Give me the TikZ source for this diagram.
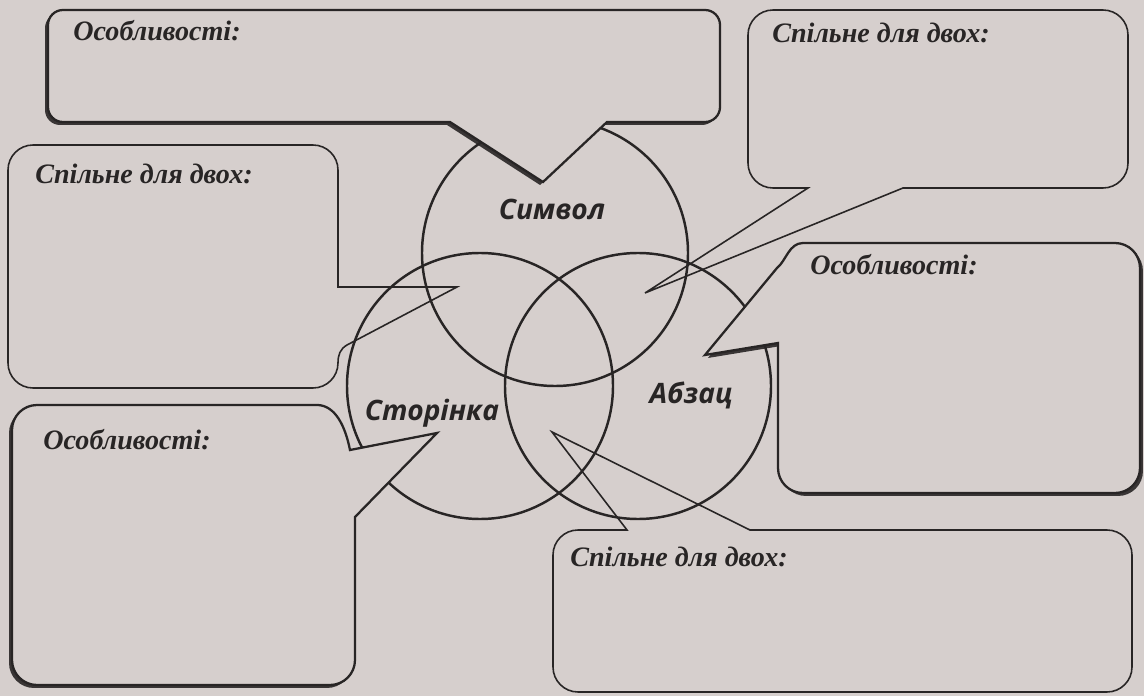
\documentclass[tikz,border=0pt]{standalone}
\usepackage{fontspec}
\setmainfont{Liberation Serif}
\newfontfamily\labelfont{Open Sans}
\usetikzlibrary{shadows}
\definecolor{paper}{RGB}{214,207,205}
\definecolor{ink}{RGB}{40,37,37}
\tikzset{
    venn/.style = {draw=ink, line width=1.4pt},
    commonbox/.style = {draw=ink, line width=0.9pt, fill=paper},
    featurebox/.style = {draw=ink, line width=1.3pt, fill=paper},
    featureleft/.style = {featurebox, drop shadow={shadow xshift=-1.7pt, shadow yshift=-1.7pt, fill=ink, opacity=.9}},
    featureright/.style = {featurebox, drop shadow={shadow xshift=1.7pt, shadow yshift=-1.7pt, fill=ink, opacity=.9}},
    boxtitle/.style = {anchor=west, inner sep=0pt, text=ink, font=\fontsize{16}{18}\selectfont\bfseries\itshape},
    circlelabel/.style = {inner sep=0pt, text=ink, font=\labelfont\fontsize{16}{18}\selectfont\bfseries\itshape}
}

\begin{document}
\begin{tikzpicture}[x=0.02cm, y=-0.02cm]
    \useasboundingbox (0,0) rectangle (1144,696);
    \fill[paper] (0,0) rectangle (1144,696);

    % circle centres and pointer tips
    \coordinate (symbol) at (555,253);
    \coordinate (page) at (480,386);
    \coordinate (paragraph) at (638,386);
    \coordinate (tipFeatTop) at (543,182);
    \coordinate (tipCommonTR) at (645,293);
    \coordinate (tipCommonL) at (457,287);
    \coordinate (tipFeatR) at (705,355);
    \coordinate (tipFeatBL) at (437,433);
    \coordinate (tipCommonBR) at (552,432);

    % common boxes (under the circles)
    \draw[commonbox] (tipCommonTR) -- (808,188) -- (773,188) arc[start angle=90, end angle=180, radius=25]
        -- (748,35) arc[start angle=180, end angle=270, radius=25]
        -- (1103,10) arc[start angle=270, end angle=360, radius=25]
        -- (1128,163) arc[start angle=0, end angle=90, radius=25] -- (903,188) -- cycle;
    \draw[commonbox] (tipCommonL) -- (347,345) .. controls (340,349) and (338,355) .. (338,363)
        arc[start angle=0, end angle=90, radius=25]
        -- (33,388) arc[start angle=90, end angle=180, radius=25]
        -- (8,170) arc[start angle=180, end angle=270, radius=25]
        -- (313,145) arc[start angle=270, end angle=360, radius=25] -- (338,287) -- cycle;
    \draw[commonbox] (tipCommonBR) -- (750,530) -- (1107,530) arc[start angle=270, end angle=360, radius=25]
        -- (1132,667) arc[start angle=0, end angle=90, radius=25]
        -- (578,692) arc[start angle=90, end angle=180, radius=25]
        -- (553,555) arc[start angle=180, end angle=270, radius=25] -- (627,530) -- cycle;

    \foreach \c in {symbol,page,paragraph}
        \draw[venn] (\c) circle[radius=133];

    % feature boxes (over the circles)
    \draw[featureleft] (tipFeatTop) -- (450,122) -- (63,122) arc[start angle=90, end angle=180, radius=15]
        -- (48,25) arc[start angle=180, end angle=270, radius=15]
        -- (705,10) arc[start angle=270, end angle=360, radius=15]
        -- (720,107) arc[start angle=0, end angle=90, radius=15] -- (607,122) -- cycle;
    \draw[featureright] (tipFeatR) -- (777,268) .. controls (786,261) and (789,243) .. (803,243)
        -- (1115,243) arc[start angle=270, end angle=360, radius=25]
        -- (1140,468) arc[start angle=0, end angle=90, radius=25]
        -- (803,493) arc[start angle=90, end angle=180, radius=25] -- (778,343) -- cycle;
    \draw[featureleft] (tipFeatBL) -- (355,517) -- (355,660) arc[start angle=0, end angle=90, radius=25]
        -- (37,685) arc[start angle=90, end angle=180, radius=25]
        -- (12,430) arc[start angle=180, end angle=270, radius=25]
        -- (318,405) .. controls (335,406) and (345,425) .. (350,450) -- cycle;

    \node[circlelabel] (symbolLabel) at (552,209) {Символ};
    \node[circlelabel] (pageLabel) at (432,413) {Сторінка};
    \node[circlelabel] (paragraphLabel) at (691,395) {Абзац};

    \node[boxtitle] (featTopTitle) at (73,31) {Особливості:};
    \node[boxtitle] (featRTitle) at (810,265) {Особливості:};
    \node[boxtitle] (featBLTitle) at (43,440) {Особливості:};
    \node[boxtitle] (commonTRTitle) at (772,33) {Спільне для двох:};
    \node[boxtitle] (commonLTitle) at (35,174) {Спільне для двох:};
    \node[boxtitle] (commonBRTitle) at (570,557) {Спільне для двох:};
\end{tikzpicture}
\end{document}
